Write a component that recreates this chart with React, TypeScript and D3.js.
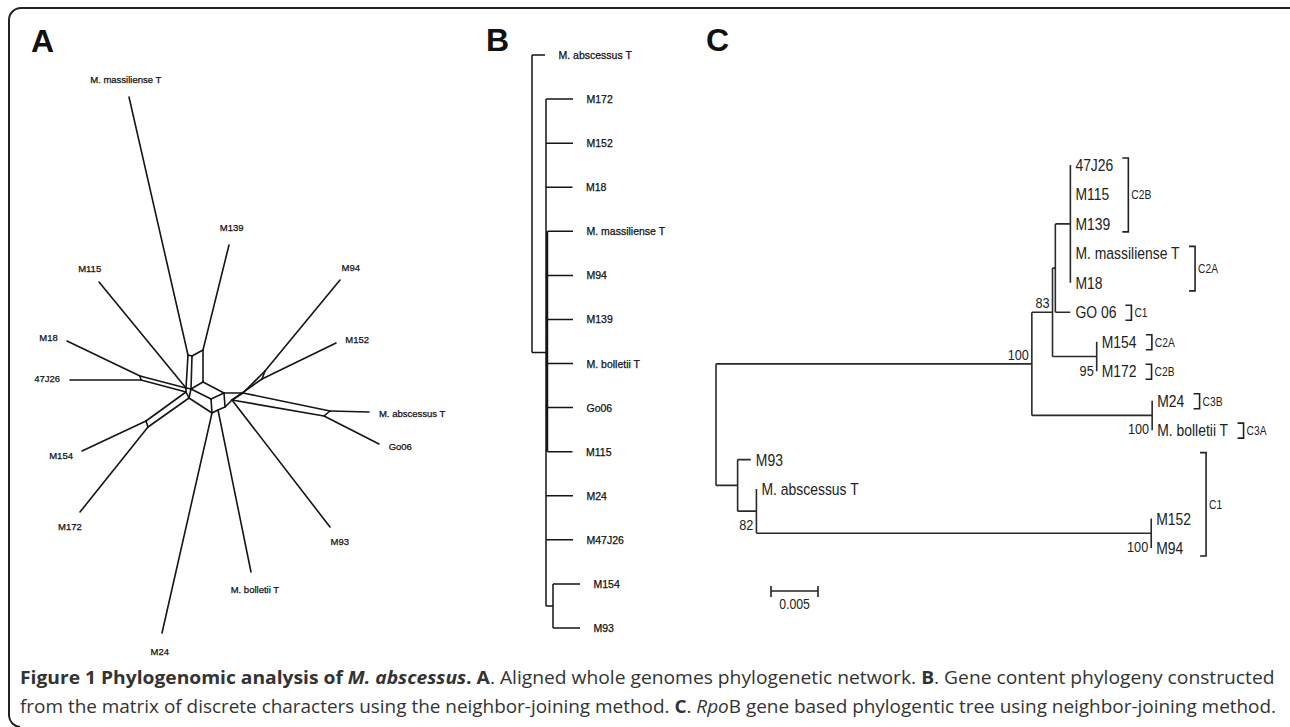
import { useEffect, useRef } from "react"
import * as d3 from "d3"

type Row = [string, string, number]

// ---------- panel A: splits network (layout units, origin at the central hub) ----------
const netNodes: [string, number, number][] = [
  ["t_mas", -71, -298],
  ["t_139", 29, -150],
  ["t_115", -101, -113],
  ["t_18", -133, -54],
  ["t_47", -130, -15],
  ["t_154", -118, 56],
  ["t_172", -120, 117],
  ["t_24", -38, 238],
  ["t_bol", 51, 177],
  ["t_93", 130, 132],
  ["t_go", 179, 49],
  ["t_abs", 169, 17],
  ["t_152", 136, -52],
  ["t_94", 140, -115],
  ["a1", -12, -40],
  ["a3", -8, -39],
  ["a2", 3, -45],
  ["a4", 3, -13],
  ["h1", -14, -7],
  ["h2", -9, -6],
  ["h3", -14, -3],
  ["h4", -11, 3],
  ["m18", -60, -19],
  ["m47", -59, -15],
  ["m154", -54, 26],
  ["m172", -52, 32],
  ["b1", 11, 4],
  ["b2", 24, -2],
  ["b3", 12, 18],
  ["b5", 18, 15],
  ["b4", 25, 12],
  ["r1", 32, 5],
  ["r2", 43, -2],
  ["ne1", 65, -24],
  ["ne2", 62, -16],
  ["e1", 124, 21],
  ["e2", 130, 16],
]

const netEdges: [string, string][] = [
  ["t_mas", "a1"], ["t_139", "a2"], ["a1", "a3"], ["a3", "a2"], ["a1", "h1"], ["a3", "h2"],
  ["a2", "a4"], ["h2", "a4"], ["h1", "h2"], ["h2", "h4"],
  ["t_115", "h1"], ["t_18", "m18"], ["t_47", "m47"], ["m18", "m47"], ["m18", "h1"], ["m47", "h3"], ["h1", "h3"],
  ["t_154", "m154"], ["t_172", "m172"], ["m154", "m172"], ["m154", "h3"], ["m172", "h4"], ["h3", "h4"],
  ["h2", "b1"], ["h4", "b3"], ["a4", "b2"], ["b1", "b2"], ["b1", "b3"], ["b3", "b5"], ["b5", "b4"], ["b2", "b4"],
  ["t_24", "b3"], ["t_bol", "b5"],
  ["b4", "r1"], ["b2", "r2"], ["r1", "r2"], ["t_93", "r1"],
  ["r2", "ne1"], ["r1", "ne2"], ["ne1", "ne2"], ["t_94", "ne1"], ["t_152", "ne2"],
  ["r2", "e2"], ["r1", "e1"], ["e1", "e2"], ["t_abs", "e2"], ["t_go", "e1"],
]

const netTaxa: [string, string][] = [
  ["t_mas", "M. massiliense T"],
  ["t_139", "M139"],
  ["t_115", "M115"],
  ["t_18", "M18"],
  ["t_47", "47J26"],
  ["t_154", "M154"],
  ["t_172", "M172"],
  ["t_24", "M24"],
  ["t_bol", "M. bolletii T"],
  ["t_93", "M93"],
  ["t_go", "Go06"],
  ["t_abs", "M. abscessus T"],
  ["t_152", "M152"],
  ["t_94", "M94"],
]

// ---------- panel B: gene content NJ tree [id, parent, branch length] ----------
const geneRows: Row[] = [
  ["root", "", 0],
  ["M. abscessus T", "root", 13],
  ["g1", "root", 14],
  ["M172", "g1", 27],
  ["M152", "g1", 27],
  ["M18", "g1", 26.5],
  ["g2", "g1", 1.5],
  ["M. massiliense T", "g2", 25.5],
  ["M94", "g2", 25.5],
  ["M139", "g2", 25.5],
  ["M. bolletii T", "g2", 25.5],
  ["Go06", "g2", 25.5],
  ["M115", "g2", 25],
  ["M24", "g1", 27],
  ["M47J26", "g1", 27],
  ["g3", "g1", 7],
  ["M154", "g3", 27],
  ["M93", "g3", 27],
]

// ---------- panel C: rpoB tree [id, parent, substitutions/site] ----------
const rpoRows: Row[] = [
  ["root", "", 0],
  ["n100", "root", 0.0336],
  ["n83", "n100", 0.0022],
  ["n2", "n83", 0.0003],
  ["n5", "n2", 0.0016],
  ["47J26", "n5", 0],
  ["M115", "n5", 0],
  ["M139", "n5", 0],
  ["M. massiliense T", "n5", 0],
  ["M18", "n5", 0],
  ["GO 06", "n2", 0.0016],
  ["n95", "n83", 0.0047],
  ["M154", "n95", 0],
  ["M172", "n95", 0],
  ["n100b", "n100", 0.0128],
  ["M24", "n100b", 0],
  ["M. bolletii T", "n100b", 0],
  ["nout", "root", 0.0023],
  ["M93", "nout", 0.0014],
  ["n82", "nout", 0.002],
  ["M. abscessus T", "n82", 0],
  ["n100c", "n82", 0.042],
  ["M152", "n100c", 0],
  ["M94", "n100c", 0],
]

const rpoSupport: [string, number][] = [
  ["n100", 100],
  ["n83", 83],
  ["n95", 95],
  ["n100b", 100],
  ["n82", 82],
  ["n100c", 100],
]

// clade brackets: label, first leaf, last leaf, leaf whose label sets the x
const rpoClades: [string, string, string, string][] = [
  ["C2B", "47J26", "M139", "47J26"],
  ["C2A", "M. massiliense T", "M18", "M. massiliense T"],
  ["C1", "GO 06", "GO 06", "GO 06"],
  ["C2A", "M154", "M154", "M154"],
  ["C2B", "M172", "M172", "M172"],
  ["C3B", "M24", "M24", "M24"],
  ["C3A", "M. bolletii T", "M. bolletii T", "M. bolletii T"],
  ["C1", "M93", "M94", "M152"],
]

const scaleBarValue = 0.005

// horizontal squeeze used for the condensed labels of panel C
const SQ = 0.82

type TNode = d3.HierarchyNode<Row> & { px: number; py: number; dist: number }

function layoutTree(rows: Row[], x: d3.ScaleLinear<number, number>, yRange: [number, number]) {
  const root = d3
    .stratify<Row>()
    .id((d) => d[0])
    .parentId((d) => (d[1] === "" ? null : d[1]))(rows) as TNode
  root.eachBefore((n: any) => {
    n.dist = (n.parent ? n.parent.dist : 0) + n.data[2]
    n.px = x(n.dist)
  })
  const leaves = root.leaves() as TNode[]
  const y = d3.scalePoint<string>().domain(leaves.map((d) => d.id as string)).range(yRange)
  root.eachAfter((n: any) => {
    n.py = n.children ? (n.children[0].py + n.children[n.children.length - 1].py) / 2 : y(n.id)
  })
  const nodes = root.descendants() as TNode[]
  let path = ""
  nodes.forEach((n) => {
    if (n.children) {
      const a = n.children[0] as TNode
      const b = n.children[n.children.length - 1] as TNode
      path += `M${n.px},${a.py}V${b.py}`
    }
    if (n.parent) {
      const p = n.parent as TNode
      if (n.px - p.px > 0.01) path += `M${p.px},${n.py}H${n.px}`
    }
  })
  return { root, nodes, leaves, path }
}

const sq = (x: number, y: number) => `translate(${x},${y}) scale(${SQ},1)`

export default function App() {
  const svgRef = useRef<SVGSVGElement>(null)

  // panel A scales
  const xA = d3.scaleLinear().domain([-200, 200]).range([0, 400])
  const yA = d3.scaleLinear().domain([-395, 332]).range([0, 727])
  const nodeMap = new Map(netNodes.map((d) => [d[0], d]))

  // panel B
  const xB = d3.scaleLinear().domain([0, 50]).range([532, 582])
  const gene = layoutTree(geneRows, xB, [55, 628])

  // panel C
  const xC = d3.scaleLinear().domain([0, scaleBarValue]).range([716, 763])
  const rpo = layoutTree(rpoRows, xC, [165, 548])
  const rpoById = new Map(rpo.nodes.map((n) => [n.id as string, n]))

  useEffect(() => {
    const svg = d3.select(svgRef.current)

    // squeeze the caption lines to the figure width
    svg.selectAll<SVGTextElement, unknown>("text.fit").each(function () {
      const target = +(this.getAttribute("data-w") || 0)
      const w = this.getBBox().width
      const tx = this.getAttribute("data-x")
      const ty = this.getAttribute("data-y")
      d3.select(this).attr("transform", `translate(${tx},${ty}) scale(${target / w},1)`)
    })

    // clade brackets placed after the tip labels
    const g = svg.select("g.brackets")
    g.selectAll("*").remove()
    rpoClades.forEach(([label, first, last, after]) => {
      const t = svg.select<SVGTextElement>(`text[data-leaf="${after}"]`).node()
      if (!t) return
      const lx = +(t.getAttribute("data-x") || 0)
      const x = lx + t.getBBox().width * SQ + 15
      const y0 = rpoById.get(first)!.py - 7
      const y1 = rpoById.get(last)!.py + 8
      g.append("path")
        .attr("d", `M${x - 6},${y0}H${x}V${y1}H${x - 6}`)
        .attr("fill", "none")
        .attr("stroke", "#222")
        .attr("stroke-width", 1.6)
      g.append("text")
        .attr("transform", sq(x + 3, (y0 + y1) / 2 + 4.5))
        .attr("font-size", 12.5)
        .attr("fill", "#222")
        .text(label)
    })
  }, [])

  const cx = xA(0)
  const cy = yA(0)

  const sans = "'Liberation Sans', Arial, Helvetica, sans-serif"

  return (
    <svg
      ref={svgRef}
      width={1290}
      height={727}
      style={{ position: "absolute", left: 0, top: 0, background: "#fff" }}
    >
      <path d="M1290,8H21A12,12 0 0 0 9,20V716A12,12 0 0 0 20,727" fill="none" stroke="#222" strokeWidth={2} />

      {/* panel letters */}
      <g fontFamily={sans} fontWeight="bold" fontSize={32} fill="#111">
        <text x={31} y={52}>A</text>
        <text x={486} y={51}>B</text>
        <text x={706} y={51}>C</text>
      </g>

      {/* ---------- A ---------- */}
      <g stroke="#151515" strokeWidth={1.6} strokeLinecap="round">
        {netEdges.map(([a, b], i) => {
          const p = nodeMap.get(a)!
          const q = nodeMap.get(b)!
          return <line key={i} x1={xA(p[1])} y1={yA(p[2])} x2={xA(q[1])} y2={yA(q[2])} />
        })}
      </g>
      <g fontFamily={sans} fontSize={9.5} fill="#111" stroke="#111" strokeWidth={0.25}>
        {netTaxa.map(([id, label]) => {
          const n = nodeMap.get(id)!
          const tx = xA(n[1])
          const ty = yA(n[2])
          const dx = tx - cx
          const dy = ty - cy
          const len = Math.hypot(dx, dy)
          const ux = dx / len
          const uy = dy / len
          let anchor = "middle"
          if (ux > 0.85) anchor = "start"
          if (ux < -0.85) anchor = "end"
          const gap = anchor === "middle" ? 14 : 10
          const lx = tx + ux * gap
          let ly = ty + uy * gap
          if (anchor === "middle") ly += uy > 0 ? 8 : 0
          else ly += 3.5
          return (
            <text key={id} x={lx} y={ly} textAnchor={anchor}>
              {label}
            </text>
          )
        })}
      </g>

      {/* ---------- B ---------- */}
      <path d={gene.path} fill="none" stroke="#151515" strokeWidth={1.5} />
      <g fontFamily={sans} fontSize={10.5} fill="#111" stroke="#111" strokeWidth={0.25}>
        {gene.leaves.map((n) => (
          <text key={n.id} x={n.px + 13.5} y={n.py + 4}>
            {n.id}
          </text>
        ))}
      </g>

      {/* ---------- C ---------- */}
      <path d={rpo.path} fill="none" stroke="#2a2a2a" strokeWidth={1.6} />
      <g fontFamily={sans} fontSize={17} fill="#222">
        {rpo.leaves.map((n) => (
          <text key={n.id} data-leaf={n.id} data-x={n.px + 5} transform={sq(n.px + 5, n.py + 6)}>
            {n.id}
          </text>
        ))}
      </g>
      <g fontFamily={sans} fontSize={15.5} fill="#222" textAnchor="end">
        {rpoSupport.map(([id, v]) => {
          const n = rpoById.get(id)!
          const first = n.children![0] as TNode
          const below = first.data[2] === 0
          return (
            <text key={id} transform={sq(n.px - 3, below ? n.py + 19 : n.py - 4)}>
              {v}
            </text>
          )
        })}
      </g>
      <g className="brackets" fontFamily={sans} />
      {/* scale bar */}
      <g stroke="#222" strokeWidth={1.6}>
        <line x1={771} x2={771 + xC(scaleBarValue) - xC(0)} y1={591} y2={591} />
        <line x1={771} x2={771} y1={586} y2={597} />
        <line x1={771 + xC(scaleBarValue) - xC(0)} x2={771 + xC(scaleBarValue) - xC(0)} y1={586} y2={597} />
      </g>
      <text
        transform={sq(771 + (xC(scaleBarValue) - xC(0)) / 2, 609)}
        textAnchor="middle"
        fontFamily={sans}
        fontSize={15}
        fill="#222"
      >
        {scaleBarValue}
      </text>

      {/* ---------- caption ---------- */}
      <g fontFamily="'Open Sans', 'Noto Sans', sans-serif" fontSize={17.5} fill="#333">
        <text className="fit" data-x={20} data-y={684} data-w={1256}>
          <tspan fontWeight="bold">Figure 1 Phylogenomic analysis of </tspan>
          <tspan fontWeight="bold" fontStyle="italic">M. abscessus</tspan>
          <tspan fontWeight="bold">. A</tspan>
          <tspan>. Aligned whole genomes phylogenetic network. </tspan>
          <tspan fontWeight="bold">B</tspan>
          <tspan>. Gene content phylogeny constructed</tspan>
        </text>
        <text className="fit" data-x={20} data-y={713} data-w={1257}>
          <tspan>from the matrix of discrete characters using the neighbor-joining method. </tspan>
          <tspan fontWeight="bold">C</tspan>
          <tspan>. </tspan>
          <tspan fontStyle="italic">Rpo</tspan>
          <tspan>B gene based phylogentic tree using neighbor-joining method.</tspan>
        </text>
      </g>
    </svg>
  )
}
